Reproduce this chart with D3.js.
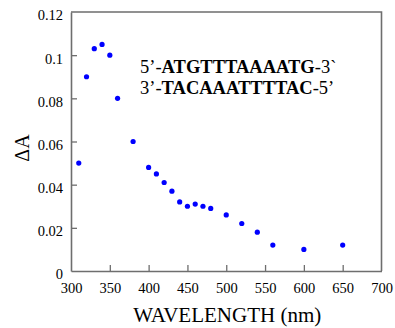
<!DOCTYPE html>
<html>
<head>
<meta charset="utf-8">
<script src="https://cdn.jsdelivr.net/npm/d3@7"></script>
<style>
  html, body { margin: 0; padding: 0; background: #fff; }
  svg { display: block; }
  svg text { font-family: "Times New Roman", Tinos, "Liberation Serif", "Noto Serif", "DejaVu Serif", serif !important; fill: #000; }
</style>
</head>
<body>
<svg id="chart" width="395" height="328"></svg>
<script>
const wavelengths = [310, 320, 330, 340, 350, 360, 380, 400, 410, 420, 430, 440, 450, 460, 470, 480, 500, 520, 540, 560, 600, 650];
const deltaA = [0.050, 0.090, 0.103, 0.105, 0.100, 0.080, 0.060, 0.048, 0.045, 0.041, 0.037, 0.032, 0.030, 0.031, 0.030, 0.029, 0.026, 0.022, 0.018, 0.012, 0.010, 0.012];
const xTicks = [300, 350, 400, 450, 500, 550, 600, 650, 700];
const yTicks = [0, 0.02, 0.04, 0.06, 0.08, 0.1, 0.12];
const yTickLabels = ["0", "0.02", "0.04", "0.06", "0.08", "0.1", "0.12"];
const xTitle = "WAVELENGTH (nm)";
const yTitle = "ΔA";
const seqLines = [
  ["5’-", "ATGTTTAAAATG", "-3`"],
  ["3’-", "TACAAATTTTAC", "-5’"]
];

const svg = d3.select("#chart");
const mLeft = 71, mRight = 381.5, mTop = 12, mBottom = 271;
const x = d3.scaleLinear().domain([300, 700]).range([mLeft, mRight]);
const y = d3.scaleLinear().domain([0, 0.12]).range([mBottom, mTop]);
const axisColor = "#6e6e6e";

svg.append("path")
  .attr("d", `M${mLeft},${mTop}H${mRight}V${mBottom}`)
  .attr("fill", "none").attr("stroke", axisColor).attr("stroke-width", 1.6);

const gx = svg.append("g").attr("transform", `translate(0,${mBottom})`)
  .call(d3.axisBottom(x).tickValues(xTicks).tickSizeInner(-6).tickSizeOuter(0).tickPadding(12).tickFormat(d3.format("d")));
const gy = svg.append("g").attr("transform", `translate(${mLeft},0)`)
  .call(d3.axisLeft(y).tickValues(yTicks).tickSizeInner(-6).tickSizeOuter(0).tickPadding(8).tickFormat((d, i) => yTickLabels[i]));

[gx, gy].forEach(g => {
  g.attr("font-family", null);
  g.select(".domain").attr("stroke", axisColor).attr("stroke-width", 1.6);
  g.selectAll(".tick line").attr("stroke", axisColor).attr("stroke-width", 1.3);
  g.selectAll(".tick text").attr("font-size", 14.5).attr("fill", "#000");
});
gy.selectAll(".tick text").attr("dy", "0.55em");
gx.selectAll(".tick line").filter(d => d === 300 || d === 700).remove();
gy.selectAll(".tick line").filter(d => d === 0 || d === 0.12).remove();

svg.append("g").selectAll("circle")
  .data(wavelengths.map((w, i) => [w, deltaA[i]]))
  .join("circle")
  .attr("cx", d => x(d[0])).attr("cy", d => y(d[1]))
  .attr("r", 2.6).attr("fill", "#0000ff");

svg.append("text").attr("x", (mLeft + mRight) / 2 + 1).attr("y", 322)
  .attr("text-anchor", "middle").attr("font-size", 21).text(xTitle);
svg.append("text").attr("transform", "translate(29,148) rotate(-90)")
  .attr("text-anchor", "middle").attr("font-size", 20).text(yTitle);

seqLines.forEach((parts, i) => {
  let cx = 140;
  parts.forEach((p, j) => {
    const t = svg.append("text").attr("x", cx).attr("y", 73 + i * 21)
      .attr("font-size", 18.5).attr("font-weight", j === 1 ? "bold" : "normal").text(p);
    cx += t.node().getComputedTextLength();
  });
});
</script>
</body>
</html>
